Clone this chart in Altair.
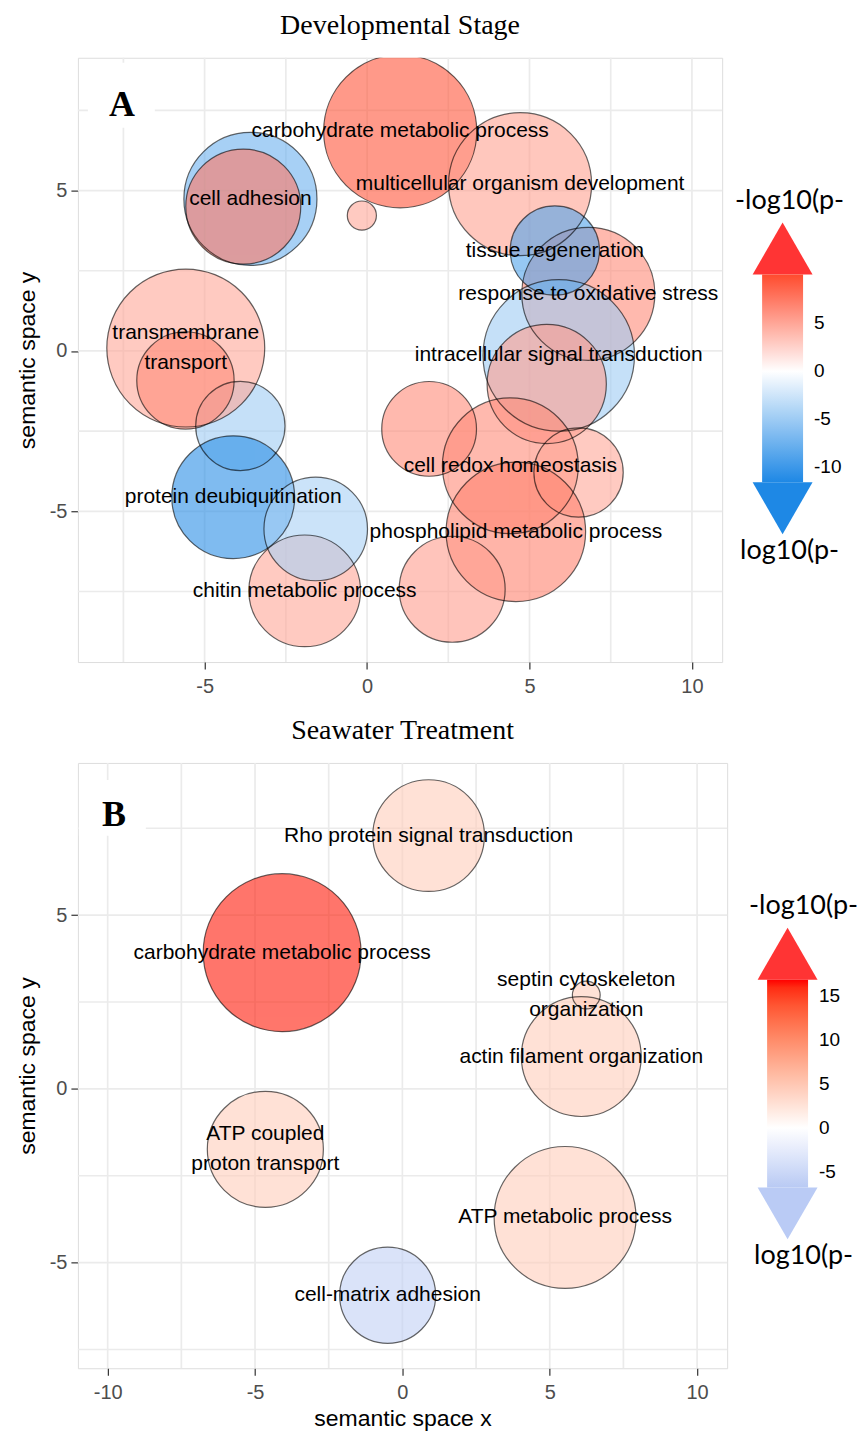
import altair as alt
import pandas as pd

# ---------------- Panel A: developmental stage ----------------
a_term = ["", "transmembrane\ntransport", "", "protein deubiquitination",
          "chitin metabolic process", "", "cell adhesion", "",
          "carbohydrate metabolic process", "multicellular organism development", "",
          "response to oxidative stress", "intracellular signal transduction", "",
          "tissue regeneration", "", "cell redox homeostasis", "",
          "phospholipid metabolic process", ""]
a_x = [-3.90, -5.58, -5.59, -4.12, -1.92, -1.58, -3.59, -3.81, 1.02, 4.71,
       -0.16, 6.81, 5.90, 5.53, 5.78, 1.91, 4.41, 6.51, 4.58, 2.62]
a_y = [-2.34, 0.09, -0.92, -4.56, -7.48, -5.55, 4.74, 4.50, 6.85, 5.20,
       4.22, 1.78, -0.14, -1.03, 3.13, -2.43, -3.58, -3.79, -5.64, -7.43]
a_size = [3.2, 10.0, 3.8, 6.05, 5.0, 4.3, 7.1, 5.3, 9.4, 8.2,
          0.34, 7.1, 9.2, 5.7, 3.2, 3.6, 7.4, 3.2, 7.8, 4.5]
a_logp = [-5, 5, 6.5, -11, 5, -4.5, -7.6, 7.5, 9.5, 5.3,
          5, 6.5, -5, 5.5, -9, 6.5, 6.5, 5, 7, 5.5]

# ---------------- Panel B: seawater treatment ----------------
b_term = ["Rho protein signal transduction", "carbohydrate metabolic process",
          "actin filament organization", "septin cytoskeleton\norganization",
          "ATP coupled\nproton transport", "ATP metabolic process",
          "cell-matrix adhesion"]
b_x = [0.89, -4.08, 6.07, 6.24, -4.65, 5.52, -0.50]
b_y = [7.29, 3.92, 0.93, 2.70, -1.74, -3.70, -5.94]
b_size = [5.0, 10.0, 5.76, 0.31, 5.4, 8.07, 3.7]
b_logp = [4.5, 16.5, 4.5, 4.5, 4.5, 4.5, -6.0]

# axis ticks, grid lines and legend ticks
a_xticks = [-5, 0, 5, 10]
a_yticks = [-5, 0, 5]
a_xgrid = [-7.5, -5, -2.5, 0, 2.5, 5, 7.5, 10]
a_ygrid = [-7.5, -5, -2.5, 0, 2.5, 5, 7.5]
b_xticks = [-10, -5, 0, 5, 10]
b_yticks = [-5, 0, 5]
b_xgrid = [-10, -7.5, -5, -2.5, 0, 2.5, 5, 7.5, 10]
b_ygrid = [-7.5, -5, -2.5, 0, 2.5, 5, 7.5]
a_legend_vals = [-10, -5, 0, 5]
b_legend_vals = [-5, 0, 5, 10, 15]

SANS = "Liberation Sans"
SERIF = "Liberation Serif"
LEG_FONT = "Lato"
GRID = "#EBEBEB"
LINE_H = 30


def panel(title, letter, terms, xs, ys, sizes, logp, xdom, ydom, xticks, yticks,
          xgrid, ygrid, cdom, crange, interp, leg_vals, up_col, down_col, width, height,
          show_xtitle, leg_x, leg_y, cap_dx, letter_pos, patch_box):
    df = pd.DataFrame({"term": terms, "x": xs, "y": ys, "size": sizes, "logp": logp})
    xs_ = alt.Scale(domain=xdom, nice=False, zero=False)
    ys_ = alt.Scale(domain=ydom, nice=False, zero=False)

    xaxis = alt.Axis(values=xticks, grid=False, domain=False,
                     title="semantic space x" if show_xtitle else None,
                     labelExpr="'' + datum.value",
                     labelFont=SANS, labelFontSize=20, labelColor="#4D4D4D",
                     tickColor="#333333", tickSize=7, tickWidth=1.2, labelPadding=7,
                     titleFont=SANS, titleFontSize=23, titleFontWeight="normal",
                     titleColor="black", titlePadding=5)
    yaxis = alt.Axis(values=yticks, grid=False, domain=False, title="semantic space y",
                     labelExpr="'' + datum.value",
                     labelFont=SANS, labelFontSize=20, labelColor="#4D4D4D",
                     tickColor="#333333", tickSize=7, tickWidth=1.2, labelPadding=4,
                     titleFont=SANS, titleFontSize=23, titleFontWeight="normal",
                     titleColor="black", titlePadding=10)

    gx = alt.Chart(pd.DataFrame({"x": xgrid})).mark_rule(
        color=GRID, strokeWidth=1.7).encode(x=alt.X("x:Q", scale=xs_, axis=xaxis))
    gy = alt.Chart(pd.DataFrame({"y": ygrid})).mark_rule(
        color=GRID, strokeWidth=1.7).encode(y=alt.Y("y:Q", scale=ys_, axis=yaxis))

    # white patch behind the panel letter
    px0, py0, px1, py1 = patch_box
    patch = alt.Chart(pd.DataFrame({"k": [0]})).mark_rect(color="white").encode(
        x=alt.value(px0), x2=alt.value(px1), y=alt.value(py0), y2=alt.value(py1))
    letter_mark = alt.Chart(pd.DataFrame({"t": [letter]})).mark_text(
        font=SERIF, fontSize=36, fontWeight="bold", color="black",
        align="center", baseline="middle").encode(
        x=alt.value(letter_pos[0]), y=alt.value(letter_pos[1]), text="t:N")

    cscale = alt.Scale(domain=cdom, range=crange, interpolate=interp)
    legend = alt.Legend(orient="none", legendX=leg_x, legendY=leg_y, title=None,
                        direction="vertical", gradientLength=208, gradientThickness=41,
                        gradientStrokeWidth=0, gradientOpacity=1, values=leg_vals,
                        labelFont=SANS, labelExpr="'' + datum.value",
                        labelFontSize=19, labelColor="black", labelOffset=11,
                        labelOverlap=False, padding=0)
    size_enc = alt.Size("size:Q", scale=alt.Scale(domain=[0, 10], range=[0, 25000]),
                        legend=None)

    base = alt.Chart(df)
    fills = base.mark_circle(fillOpacity=0.6, clip=True).encode(
        x=alt.X("x:Q", scale=xs_, axis=xaxis),
        y=alt.Y("y:Q", scale=ys_, axis=yaxis),
        size=size_enc,
        color=alt.Color("logp:Q", scale=cscale, legend=legend),
    )
    outlines = base.mark_point(filled=False, color="black", opacity=0.6,
                               strokeWidth=1.2, shape="circle", clip=True).encode(
        x=alt.X("x:Q", scale=xs_, axis=xaxis), y=alt.Y("y:Q", scale=ys_, axis=yaxis),
        size=size_enc)

    # one-line labels sit on the bubble centre; two-line labels are centred as a block
    def label_layer(test, dy):
        return base.transform_filter(test).transform_calculate(
            lab="split(datum.term, '\\n')").mark_text(
            font=SANS, fontSize=21, color="black", align="center", baseline="middle",
            lineHeight=LINE_H, dy=dy).encode(
            x=alt.X("x:Q", scale=xs_, axis=xaxis), y=alt.Y("y:Q", scale=ys_, axis=yaxis),
            text="lab:N")

    labels1 = label_layer("datum.term != '' && indexof(datum.term, '\\n') < 0", 0)
    labels2 = label_layer("indexof(datum.term, '\\n') >= 0", -LINE_H / 2)

    # arrow heads, colour-bar ticks and captions of the colour bar
    cx = leg_x + 20.5
    arrows = alt.Chart(pd.DataFrame({"c": [up_col, down_col], "s": ["triangle-up", "triangle-down"],
                                     "yy": [leg_y - 26, leg_y + 208 + 26]})).mark_point(
        filled=True, opacity=1, size=3600).encode(
        x=alt.value(cx), y=alt.Y("yy:Q", scale=None),
        color=alt.Color("c:N", scale=None), shape=alt.Shape("s:N", scale=None))
    tick_rows = []
    for v in leg_vals:
        py = leg_y + (cdom[-1] - v) / (cdom[-1] - cdom[0]) * 208
        tick_rows.append({"x1": leg_x, "x2": leg_x + 8, "py": py})
        tick_rows.append({"x1": leg_x + 33, "x2": leg_x + 41, "py": py})
    ticks = alt.Chart(pd.DataFrame(tick_rows)).mark_rule(color="white", strokeWidth=1).encode(
        x=alt.X("x1:Q", scale=None), x2="x2:Q", y=alt.Y("py:Q", scale=None))
    caps = alt.Chart(pd.DataFrame({"t": ["-log10(p-", "log10(p-"],
                                   "yy": [leg_y - 74, leg_y + 208 + 69]})).mark_text(
        font=LEG_FONT, fontSize=27, color="black", align="center", baseline="middle").encode(
        x=alt.value(cx + cap_dx), y=alt.Y("yy:Q", scale=None), text="t:N")

    return alt.layer(gx, gy, patch, letter_mark, fills, outlines, labels1, labels2,
                     arrows, ticks, caps).properties(
        width=width, height=height,
        title=alt.Title(title, font=SERIF, fontSize=28, fontWeight="normal",
                        color="black", anchor="middle", frame="group", offset=17),
    )


panel_a = panel("Developmental Stage", "A", a_term, a_x, a_y, a_size, a_logp,
                [-8.90, 10.93], [-9.70, 9.14], a_xticks, a_yticks, a_xgrid, a_ygrid,
                [-11.6, 0, 10.1], ["#1E88E5", "#FFFFFF", "#FF4B2E"], "rgb", a_legend_vals,
                "#FF3434", "#1E88E5", 645, 605, False, 685, 217, 7,
                (44, 47), (10, 5, 77, 70))
panel_b = panel("Seawater Treatment", "B", b_term, b_x, b_y, b_size, b_logp,
                [-11.01, 11.02], [-8.04, 9.38], b_xticks, b_yticks, b_xgrid, b_ygrid,
                [-6.8, 0, 16.9], ["#B9CAF4", "#FFFFFF", "#FF0000"], "lab", b_legend_vals,
                "#FF3434", "#BACBF5", 650, 606, True, 690, 217, 16,
                (36, 52), (1, 17, 68, 73))

chart = alt.vconcat(panel_a, panel_b, spacing=19).resolve_scale(
    color="independent", size="independent", x="independent", y="independent",
    shape="independent").configure_view(
    stroke="#333333", strokeWidth=1.3).configure(
    padding={"left": 15, "top": 10, "right": 0, "bottom": 0}, background="white")

chart.save("out.html", embed_options={"renderer": "svg", "actions": False})
